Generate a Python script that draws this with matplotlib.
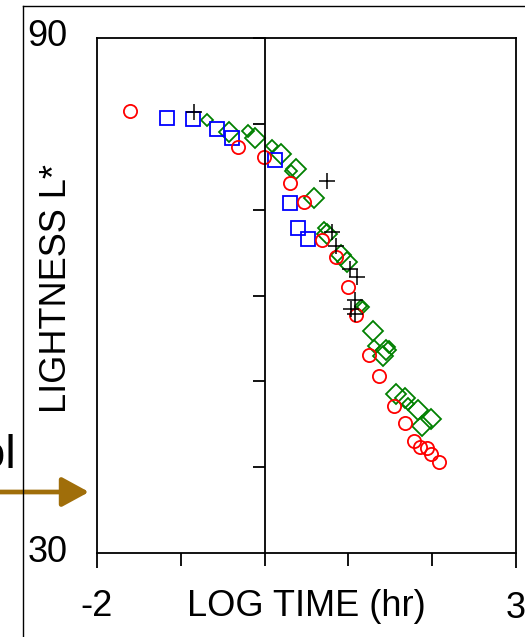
import matplotlib
matplotlib.use("Agg")
import matplotlib.pyplot as plt
from matplotlib.lines import Line2D
from matplotlib.patches import FancyArrowPatch

plt.rcParams['font.family'] = ['Liberation Sans', 'DejaVu Sans']

W, H = 525, 637

# data (log time in hr, lightness L*)
red_x = [-1.61, -0.32, -0.01, 0.30, 0.47, 0.69, 0.85, 0.99, 1.09, 1.25, 1.37,
         1.55, 1.67, 1.78, 1.86, 1.94, 1.98, 2.08]
red_y = [81.5, 77.3, 76.1, 73.1, 70.9, 66.5, 64.5, 61.0, 57.7, 53.1, 50.6,
         47.1, 45.1, 43.1, 42.3, 42.2, 41.5, 40.6]

blue_x = [-1.17, -0.86, -0.57, -0.39, 0.13, 0.30, 0.40, 0.52]
blue_y = [80.7, 80.6, 79.4, 78.4, 75.8, 70.8, 67.9, 66.6]

plus_x = [-0.84, 0.74, 0.80, 0.85, 1.02, 1.10, 1.08, 1.03, 1.08]
plus_y = [81.4, 73.3, 67.4, 65.8, 63.1, 62.1, 59.5, 58.4, 57.8]

green_x = [-0.42, -0.11, 0.20, 0.38, 0.59, 0.75, 0.91, 0.98, 1.29, 1.45,
           1.41, 1.57, 1.68, 1.83, 1.98, 1.88]
green_y = [79.1, 78.4, 76.5, 74.7, 71.4, 67.2, 64.7, 63.9, 55.9, 53.7,
           52.9, 48.5, 48.1, 46.7, 45.6, 44.8]

green_small_x = [-0.69, -0.20, 0.09, 0.32, 0.71, 1.15, 1.18, 1.30, 1.48, 1.71]
green_small_y = [80.4, 79.2, 77.4, 74.5, 67.9, 58.8, 58.7, 54.1, 54.0, 47.4]

fig = plt.figure(figsize=(W / 100, H / 100), dpi=100)

L, R, T, B = 97, 516, 38, 553
pos = [L / W, 1 - B / H, (R - L) / W, (B - T) / H]

ax = fig.add_axes(pos)
ax.set_xlim(-2, 3)
ax.set_ylim(30, 90)
for s in ax.spines.values():
    s.set_linewidth(1.3)
ax.set_xticks([-2, 3])
ax.set_xticks([-1, 0, 1, 2], minor=True)
ax.tick_params(axis='x', which='major', direction='out', length=11, width=1.3,
               labelbottom=False)
ax.tick_params(axis='x', which='minor', direction='out', length=9, width=1.3)
ax.tick_params(axis='y', left=False, labelleft=False)

# centre axis at log time = 0 with ticks to the left
ax2 = fig.add_axes(pos, facecolor='none')
ax2.set_xlim(-2, 3)
ax2.set_ylim(30, 90)
for k in ['top', 'right', 'bottom']:
    ax2.spines[k].set_visible(False)
ax2.spines['left'].set_position(('data', 0))
ax2.spines['left'].set_linewidth(1.3)
ax2.set_xticks([])
ax2.set_yticks([40, 50, 60, 70, 80, 90])
ax2.tick_params(axis='y', direction='out', length=9, width=1.3, labelleft=False)

mew = 1.3
ax.plot(green_x, green_y, 'D', ms=10, mfc='none', mec='#008000', mew=mew)
ax.plot(green_small_x, green_small_y, 'D', ms=6, mfc='none', mec='#008000', mew=mew)
ax.plot(blue_x, blue_y, 's', ms=9.5, mfc='none', mec='#0000FF', mew=mew)
ax.plot(red_x, red_y, 'o', ms=9.5, mfc='none', mec='#FF0000', mew=mew)
ax.plot(plus_x, plus_y, '+', ms=11.5, mec='black', mew=1.1)

# tick labels and axis titles
fs = 26
fig.text(47 / W, 1 - 37 / H, '90', ha='center', va='center', fontsize=fs)
fig.text(48 / W, 1 - 552 / H, '30', ha='center', va='center', fontsize=fs)
fig.text(97 / W, 1 - 606 / H, '-2', ha='center', va='center', fontsize=fs)
fig.text(516 / W, 1 - 608 / H, '3', ha='center', va='center', fontsize=fs)
fig.text(306 / W, 1 - 606 / H, 'LOG TIME (hr)', ha='center', va='center', fontsize=fs)
fig.text(56 / W, 1 - 289 / H, 'LIGHTNESS L*', ha='center', va='center',
         rotation=90, fontsize=fs)

# outer frame and the cut-off label with arrow
fig.add_artist(Line2D([23 / W, 23 / W], [0, 1 - 6 / H], color='black', lw=1.0))
fig.add_artist(Line2D([23 / W, 1], [1 - 6 / H, 1 - 6 / H], color='black', lw=1.0))
fig.text(16 / W, 1 - 456 / H, 'ol', ha='right', va='center', fontsize=34)
fig.add_artist(FancyArrowPatch(
    (0, 1 - 492 / H), (89 / W, 1 - 492 / H), transform=fig.transFigure,
    arrowstyle='-|>,head_length=1.1,head_width=0.6', mutation_scale=15,
    shrinkA=0, shrinkB=0, color='#A06E0A', lw=3.4))

fig.savefig('out.png', dpi=100)
